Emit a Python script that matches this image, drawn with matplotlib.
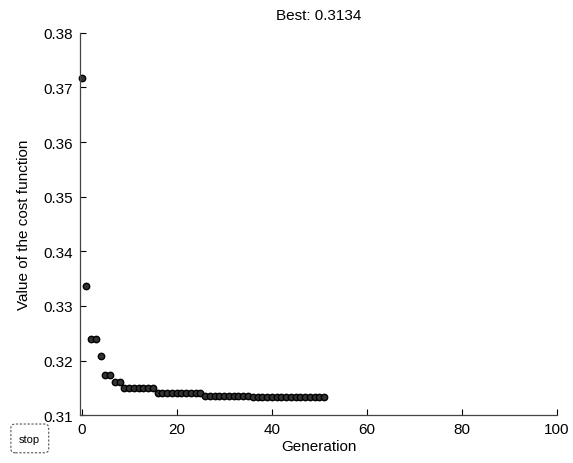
import numpy as np
import matplotlib
matplotlib.use('Agg')
import matplotlib.pyplot as plt
from matplotlib.patches import FancyBboxPatch

plt.rcParams['font.family'] = ['Liberation Sans', 'DejaVu Sans']

# best cost per generation
generations = np.arange(0, 52)
best_values = ([0.3718, 0.3337, 0.3240, 0.3240, 0.3208, 0.3174, 0.3174,
                0.3161, 0.3161]
               + [0.3149] * 7
               + [0.3140] * 10
               + [0.3136] * 10
               + [0.3134] * 16)
best_final = 0.3134
x_ticks = [0, 20, 40, 60, 80, 100]
y_ticks = [0.31, 0.32, 0.33, 0.34, 0.35, 0.36, 0.37, 0.38]

fig = plt.figure(figsize=(5.73, 4.64), dpi=100)
ax = fig.add_axes([0.140, 0.103, 0.832, 0.824])

ax.plot(generations, best_values, linestyle='none', marker='o',
        markersize=4.6, markerfacecolor='#333333', markeredgecolor='black',
        markeredgewidth=1.0, clip_on=False)

ax.set_xlim(-0.3, 100)
ax.set_ylim(0.31, 0.38)
ax.set_xticks(x_ticks)
ax.set_yticks(y_ticks)
ax.set_yticklabels(['%.2f' % v for v in y_ticks])
ax.tick_params(direction='in', length=4, width=0.8, labelsize=11,
               colors='black', pad=5)

ax.spines['top'].set_visible(False)
ax.spines['right'].set_visible(False)
for side in ['left', 'bottom']:
    ax.spines[side].set_color('#444444')
    ax.spines[side].set_linewidth(0.9)

ax.set_title('Best: %.4f' % best_final, fontsize=11, pad=10)
ax.set_xlabel('Generation', fontsize=11, labelpad=2)
ax.set_ylabel('Value of the cost function', fontsize=11, labelpad=9)

# stop button in the lower left corner
btn = FancyBboxPatch((0.019, 0.022), 0.066, 0.062,
                     boxstyle='round,pad=0.0,rounding_size=0.008',
                     transform=fig.transFigure, facecolor='white',
                     edgecolor='#555555', linestyle=(0, (2, 1.5)),
                     linewidth=0.8)
fig.patches.append(btn)
fig.text(0.052, 0.052, 'stop', ha='center', va='center', fontsize=8)

plt.savefig('out.png', dpi=100)
